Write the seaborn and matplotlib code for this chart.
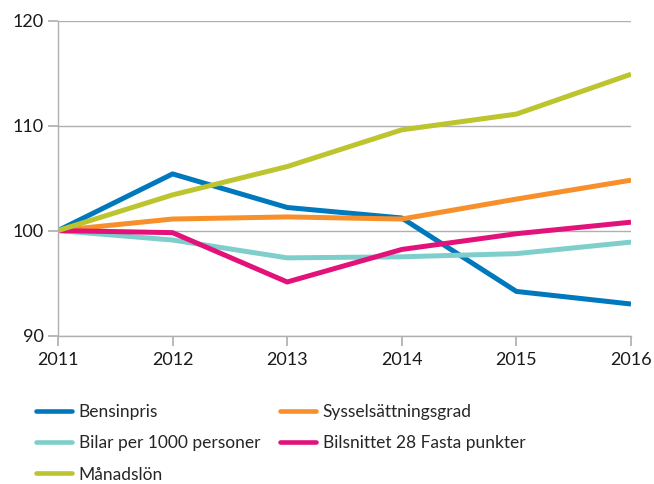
import matplotlib
matplotlib.use("Agg")
import matplotlib.pyplot as plt
import seaborn as sns
import pandas as pd

years = [2011, 2012, 2013, 2014, 2015, 2016]
bensinpris = [100, 105.4, 102.2, 101.2, 94.2, 93.0]
syssel = [100, 101.1, 101.3, 101.1, 103.0, 104.8]
bilar = [100, 99.1, 97.4, 97.5, 97.8, 98.9]
bilsnittet = [100, 99.8, 95.1, 98.2, 99.7, 100.8]
manadslon = [100, 103.4, 106.1, 109.6, 111.1, 114.9]

series_names = ["Bensinpris", "Sysselsättningsgrad", "Bilar per 1000 personer",
                "Bilsnittet 28 Fasta punkter", "Månadslön"]
series_values = [bensinpris, syssel, bilar, bilsnittet, manadslon]
colors = ["#0078BE", "#F7902A", "#7ECFCB", "#E2127A", "#BCC42E"]

rows = []
for name, vals in zip(series_names, series_values):
    for y, v in zip(years, vals):
        rows.append({"År": y, "Index": v, "Serie": name})
df = pd.DataFrame(rows)

sns.set_theme(style="white")
plt.rcParams["font.family"] = ["Lato", "DejaVu Sans"]

fig = plt.figure(figsize=(6.54, 4.84), dpi=100)
ax = fig.add_axes([58/654, 1-335.5/484, (631-58)/654, (335.5-20.7)/484])

sns.lineplot(data=df, x="År", y="Index", hue="Serie", hue_order=series_names,
             palette=colors, linewidth=3.6, ax=ax, legend=False,
             solid_capstyle="butt")

ax.set_xlim(2011, 2016)
ax.set_ylim(90, 120)
ax.set_yticks([90, 100, 110, 120])
ax.set_xticks(years)
ax.set_xticklabels([str(y) for y in years])
ax.yaxis.grid(True, color="#B0B0B0", linewidth=1)
ax.xaxis.grid(False)
ax.set_axisbelow(True)
for s in ["top", "right"]:
    ax.spines[s].set_visible(False)
ax.spines["left"].set_color("#B0B0B0")
ax.spines["bottom"].set_color("#B0B0B0")
ax.spines["left"].set_linewidth(1)
ax.spines["bottom"].set_linewidth(1)
ax.tick_params(axis="x", which="both", bottom=True, length=7, color="#B0B0B0",
               labelsize=13, pad=5, labelcolor="#1a1a1a")
ax.tick_params(axis="y", which="both", left=True, length=7, color="#B0B0B0",
               labelsize=13, pad=3.5, labelcolor="#1a1a1a")
ax.set_xlabel("")
ax.set_ylabel("")

handles = {name: plt.Line2D([], [], color=c, linewidth=3.3, solid_capstyle="round")
           for name, c in zip(series_names, colors)}
order = ["Bensinpris", "Bilar per 1000 personer", "Månadslön",
         "Sysselsättningsgrad", "Bilsnittet 28 Fasta punkter"]
fig.legend([handles[o] for o in order], order, ncol=2,
           loc="upper left", bbox_to_anchor=(36/654, 1-404/484),
           frameon=False, fontsize=12.5, handlelength=2.1, handletextpad=0.35,
           columnspacing=1.15, labelspacing=0.88, borderaxespad=0, borderpad=0)

fig.savefig("out.png", dpi=100)
